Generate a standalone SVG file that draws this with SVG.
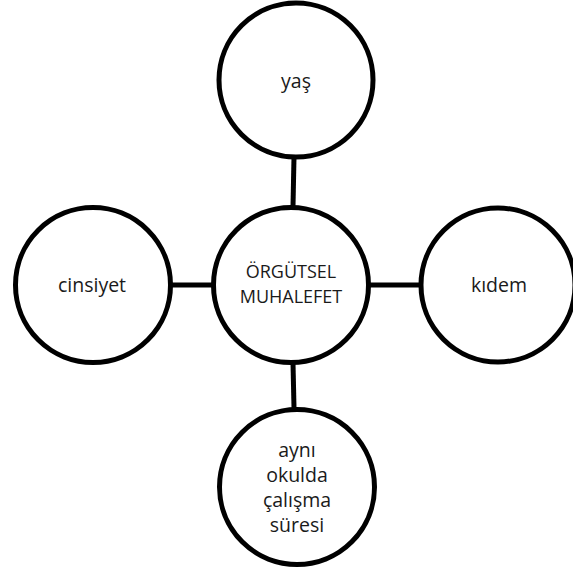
<svg xmlns="http://www.w3.org/2000/svg" width="573" height="574" viewBox="0 0 573 574">
<style>
.n{fill:#fff;stroke:#000;stroke-width:5}
.c{stroke:#000;stroke-width:5;fill:none}
text{font-family:"Open Sans","Liberation Sans",sans-serif;font-size:19.5px;fill:#1a1a1a;text-anchor:middle}
.s{font-size:18px}
</style>
<rect width="573" height="574" fill="#fff"/>
<g id="connectors">
<line class="c" x1="294" y1="157" x2="293" y2="206"/>
<line class="c" x1="171" y1="285" x2="212" y2="285"/>
<line class="c" x1="370" y1="285" x2="421" y2="285"/>
<line class="c" x1="293" y1="363" x2="294" y2="408"/>
</g>
<g id="yas"><circle class="n" cx="296" cy="80" r="77"/><text x="296" y="88">yaş</text></g>
<g id="center"><circle class="n" cx="291" cy="285" r="77.5"/><text class="s" x="291" y="278">ÖRGÜTSEL</text><text class="s" x="291" y="303">MUHALEFET</text></g>
<g id="cinsiyet"><circle class="n" cx="93" cy="285" r="77.5"/><text x="92" y="292">cinsiyet</text></g>
<g id="kidem"><circle class="n" cx="498" cy="285" r="77"/><text x="499" y="292">kıdem</text></g>
<g id="sure"><circle class="n" cx="297" cy="487" r="77.5"/><text x="297" y="457">aynı</text><text x="297" y="482">okulda</text><text x="297" y="507">çalışma</text><text x="297" y="532">süresi</text></g>
</svg>
